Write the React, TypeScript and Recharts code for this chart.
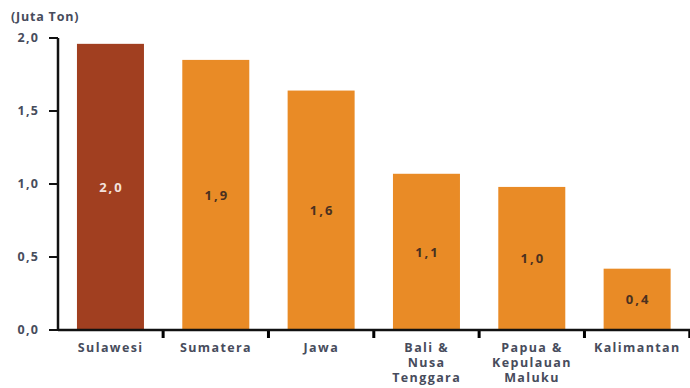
import React from 'react';
import { BarChart, Bar, XAxis, YAxis, Cell, LabelList } from 'recharts';

const regions = ['Sulawesi', 'Sumatera', 'Jawa', 'Bali & Nusa Tenggara', 'Papua & Kepulauan Maluku', 'Kalimantan'];
const regionLines = [['Sulawesi'], ['Sumatera'], ['Jawa'], ['Bali &', 'Nusa', 'Tenggara'], ['Papua &', 'Kepulauan', 'Maluku'], ['Kalimantan']];
const production = [1.96, 1.85, 1.64, 1.07, 0.98, 0.42];
const valueLabels = ['2,0', '1,9', '1,6', '1,1', '1,0', '0,4'];
const yTicks = [0, 0.5, 1, 1.5, 2];

const data = regions.map((name, i) => ({ name, value: production[i], label: valueLabels[i] }));

const FONT = '"Open Sans", sans-serif';
const TEXT = '#474c5c';
const DARK_BAR = '#a13f20';
const ORANGE = '#e98b26';

const CHART_W = 690;
const PLOT_LEFT = 58;
const BAND = (CHART_W - PLOT_LEFT) / regions.length;

const CategoryTick = (props: any) => {
  const { payload, index } = props;
  const cx = Number(props.x);
  const cy = Number(props.y);
  const lines = regionLines[index] || [payload.value];
  return (
    <text x={cx} y={cy} textAnchor="middle" fontFamily={FONT} fontSize={12.5} fontWeight={700} letterSpacing={1.4} fill={TEXT}>
      {lines.map((l: string, i: number) => (
        <tspan key={i} x={cx} dy={i === 0 ? 14 : 15}>{l}</tspan>
      ))}
    </text>
  );
};

// bar plus the small tick mark on the x axis at the right edge of its category
const BarWithTick = (props: any) => {
  const x = Number(props.x);
  const y = Number(props.y);
  const w = Number(props.width);
  const h = Number(props.height);
  const edge = x + w / 2 + BAND / 2;
  const base = y + h;
  return (
    <g>
      <rect x={x} y={y} width={w} height={h} fill={props.fill} />
      <rect x={edge - 1.5} y={base} width={3} height={8} fill="#000" />
    </g>
  );
};

const formatY = (v: number) => v.toFixed(1).replace('.', ',');

export default function App() {
  return (
    <div style={{ position: 'absolute', left: 0, top: 0, width: 690, height: 388, background: '#fff' }}>
      <div style={{ position: 'absolute', left: 11, top: 8, fontFamily: FONT, fontSize: 12.5, fontWeight: 700, letterSpacing: 0.8, color: TEXT }}>
        (Juta Ton)
      </div>
      <BarChart width={690} height={388} data={data} margin={{ top: 38, right: 0, left: 0, bottom: 0 }} barCategoryGap="18%">
        <XAxis
          dataKey="name"
          height={58}
          interval={0}
          axisLine={{ stroke: '#111', strokeWidth: 2.5 }}
          tickLine={false}
          tick={<CategoryTick />}
        />
        <YAxis
          width={58}
          domain={[0, 2]}
          ticks={yTicks}
          tickFormatter={formatY}
          axisLine={{ stroke: '#111', strokeWidth: 2.5 }}
          tickLine={{ stroke: '#111', strokeWidth: 2 }}
          tickSize={9}
          tickMargin={10}
          tick={{ fontFamily: FONT, fontSize: 12.5, fontWeight: 700, letterSpacing: 1.2, fill: TEXT }}
        />
        <Bar dataKey="value" isAnimationActive={false} shape={<BarWithTick />}>
          {data.map((d, i) => (
            <Cell key={d.name} fill={i === 0 ? DARK_BAR : ORANGE} />
          ))}
          <LabelList
            dataKey="label"
            position="center"
            content={(p: any) => {
              const { x, y, width, height, value, index } = p;
              return (
                <text
                  x={Number(x) + Number(width) / 2 + 1}
                  y={Number(y) + Number(height) / 2}
                  dy={5}
                  textAnchor="middle"
                  fontFamily={FONT}
                  fontSize={13}
                  fontWeight={700}
                  letterSpacing={2}
                  fill={index === 0 ? '#f3e2dc' : '#4a3020'}
                >
                  {value}
                </text>
              );
            }}
          />
        </Bar>
      </BarChart>
    </div>
  );
}
